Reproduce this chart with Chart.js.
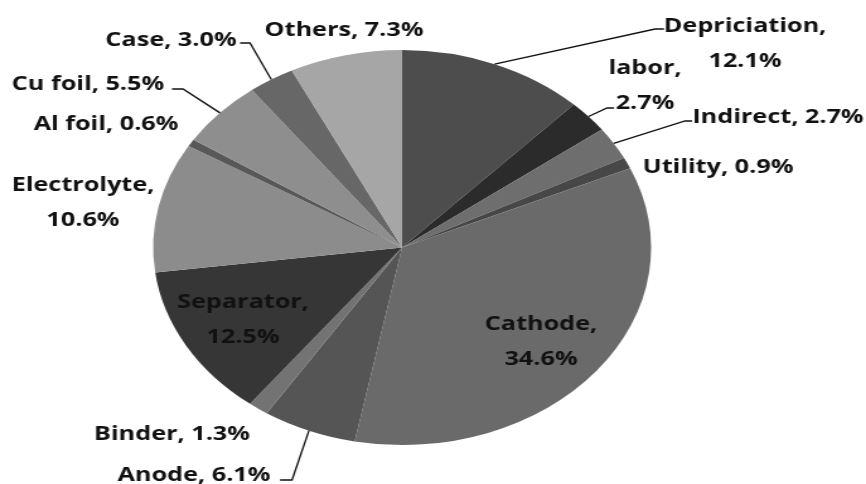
<!DOCTYPE html>
<html>
<head>
<meta charset="utf-8">
<script src="https://cdn.jsdelivr.net/npm/chart.js@4/dist/chart.umd.min.js"></script>
<style>
  html, body { margin: 0; padding: 0; background: #fff; }
  #wrap { position: relative; width: 866px; height: 484px; overflow: hidden; }
  #costChart { position: absolute; left: 0; top: 0; transform: scaleX(1.2606); transform-origin: 0 0; }
</style>
</head>
<body>
<div id="wrap">
  <canvas id="costChart" width="687" height="484"></canvas>
</div>
<script>
// datos del gráfico (orden horario desde arriba)
const categories = ['Depriciation', 'labor', 'Indirect', 'Utility', 'Cathode', 'Anode', 'Binder',
    'Separator', 'Electrolyte', 'Al foil', 'Cu foil', 'Case', 'Others'];
const shares = [12.1, 2.7, 2.7, 0.9, 34.6, 6.1, 1.3, 12.5, 10.6, 0.6, 5.5, 3.0, 7.3];
const sliceColors = ['#4d4d4d', '#2b2b2b', '#6e6e6e', '#474747', '#6a6a6a', '#555555', '#737373',
    '#363636', '#8c8c8c', '#585858', '#8e8e8e', '#676767', '#a6a6a6'];

// la imagen original está estirada en horizontal
const K = 866 / 687;

// posición de cada etiqueta (px de la imagen final) y puntos de la línea guía
const labelLayout = {
    'Depriciation': { x: 745, y: 26, lines: 2, leader: [[655, 29], [664, 29]] },
    'labor': { x: 645, y: 68, lines: 2, leader: [[607, 108], [614, 108]] },
    'Indirect': { x: 778, y: 117, lines: 1, leader: [[685, 121], [692, 121]] },
    'Utility': { x: 718, y: 167, lines: 1 },
    'Cathode': { x: 541, y: 324, lines: 2 },
    'Anode': { x: 194, y: 475, lines: 1, leader: [[292, 480], [280, 480]] },
    'Binder': { x: 172, y: 434, lines: 1 },
    'Separator': { x: 243, y: 302, lines: 2 },
    'Electrolyte': { x: 83, y: 185, lines: 2 },
    'Al foil': { x: 106, y: 124, lines: 1 },
    'Cu foil': { x: 88, y: 84, lines: 1, leader: [[183, 89], [172, 89]] },
    'Case': { x: 171, y: 40, lines: 1, leader: [[250, 43], [240, 43]] },
    'Others': { x: 344, y: 30, lines: 1 }
};

const labelPlugin = {
    id: 'sliceLabels',
    afterDatasetsDraw(chart) {
        const ctx = chart.ctx;
        const meta = chart.getDatasetMeta(0);
        ctx.save();
        ctx.fillStyle = '#111';
        ctx.strokeStyle = '#111';
        ctx.lineWidth = 1.3;
        ctx.font = 'bold 20px "Open Sans", sans-serif';
        ctx.textAlign = 'center';
        ctx.textBaseline = 'middle';
        meta.data.forEach(function (arc, i) {
            const name = categories[i];
            const lay = labelLayout[name];
            if (!lay) return;
            const p = arc.getProps(['x', 'y', 'startAngle', 'endAngle', 'outerRadius'], true);
            const mid = (p.startAngle + p.endAngle) / 2;
            if (lay.leader) {
                ctx.beginPath();
                ctx.moveTo(p.x + Math.cos(mid) * p.outerRadius, p.y + Math.sin(mid) * p.outerRadius);
                lay.leader.forEach(function (pt) { ctx.lineTo(pt[0] / K, pt[1]); });
                ctx.stroke();
            }
            const pct = shares[i].toFixed(1) + '%';
            if (lay.lines === 2) {
                ctx.fillText(name + ',', lay.x / K, lay.y);
                ctx.fillText(pct, lay.x / K, lay.y + 35);
            } else {
                ctx.fillText(name + ', ' + pct, lay.x / K, lay.y);
            }
        });
        ctx.restore();
    }
};

new Chart(document.getElementById('costChart'), {
    type: 'pie',
    data: {
        labels: categories,
        datasets: [{
            data: shares,
            backgroundColor: sliceColors,
            borderWidth: 0
        }]
    },
    options: {
        responsive: false,
        animation: false,
        layout: { padding: { top: 50, bottom: 39, left: 20, right: 69 } },
        plugins: {
            legend: { display: false },
            tooltip: { enabled: false }
        }
    },
    plugins: [labelPlugin]
});
</script>
</body>
</html>
